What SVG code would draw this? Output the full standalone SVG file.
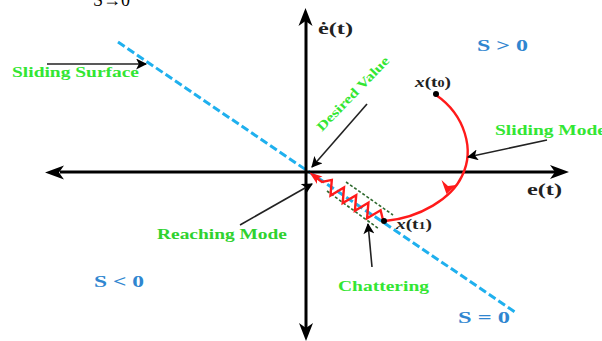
<svg xmlns="http://www.w3.org/2000/svg" width="602" height="341" viewBox="0 0 602 341">
<defs>
<style>
.lbl{font-family:"Liberation Serif","Times New Roman",serif;font-weight:bold;font-size:15px;fill:#33e633}
.reg{font-family:"Liberation Serif","Times New Roman",serif;font-weight:bold;font-size:17px;fill:#2f86d0}
.ax{font-family:"Liberation Serif","Times New Roman",serif;font-weight:bold;font-size:17px;fill:#222}
.pt{font-family:"Liberation Serif","Times New Roman",serif;font-weight:bold;font-size:15px;fill:#222}
.axis{stroke:#000;stroke-width:3;fill:none}
.lead{stroke:#222;stroke-width:1.6;fill:none}
.surf{stroke:#1fb0ee;stroke-width:3;stroke-dasharray:8,3.5;fill:none}
.band{stroke:#2f6a2f;stroke-width:1.6;stroke-dasharray:3,2;fill:none}
.traj{stroke:#ff1a1a;stroke-width:2.4;fill:none}
</style>
<marker id="ahl" viewBox="0 0 10 10" refX="9" refY="5" markerWidth="13" markerHeight="11" markerUnits="userSpaceOnUse" orient="auto">
<path d="M0,0 L10,5 L0,10 L2.5,5 z" fill="#000"/>
</marker>
</defs>
<rect width="602" height="341" fill="#fff"/>
<text x="93" y="6" style="font-family:'Liberation Serif','Times New Roman',serif;font-size:18px;fill:#000">S→0</text>
<g id="connectors">
<line class="surf" x1="118" y1="42" x2="515" y2="312"/>
<line class="axis" x1="60" y1="172" x2="555" y2="172"/>
<polygon points="45,172.5 64,165.5 59,172.5 64,179.5" fill="#000"/>
<polygon points="569,172 550,165 555,172 550,179" fill="#000"/>
<line class="axis" x1="306" y1="20" x2="306" y2="328"/>
<polygon points="305.5,8 298.5,26 305.5,21 312.5,26" fill="#000"/>
<polygon points="306,341 299,323 306,328 313,323" fill="#000"/>
<line class="band" x1="346" y1="182" x2="393" y2="215"/>
<line class="band" x1="327" y1="191" x2="379" y2="229"/>
<path class="traj" d="M436,95 C465,115 475,150 462,176 C452,198 420,218 385,221"/>
<polygon points="446.5,194 441.5,180 448,186 456,185" fill="#ff1a1a"/>
<polyline class="traj" stroke-width="2" points="383,220 380.6,210.3 367.1,218.3 368.4,202.7 354.9,210.7 356.2,195.1 342.7,203.1 344,187.5 330.5,195.5 331.8,179.9 322,182 316,177.5"/>
<polygon points="309.5,172.5 322.5,176.5 317,178.5 317,184" fill="#ff1a1a"/>
<line class="lead" x1="47" y1="64" x2="146" y2="64" marker-end="url(#ahl)"/>
<line class="lead" x1="367" y1="104" x2="312" y2="167" marker-end="url(#ahl)"/>
<line class="lead" x1="547" y1="140" x2="468" y2="157" marker-end="url(#ahl)"/>
<line class="lead" x1="240" y1="225" x2="312" y2="184" marker-end="url(#ahl)"/>
<line class="lead" x1="372" y1="267" x2="368" y2="224" marker-end="url(#ahl)"/>
</g>
<g id="sliding-surface"><text class="lbl" x="12" y="77" textLength="127" lengthAdjust="spacingAndGlyphs">Sliding Surface</text></g>
<g id="desired-value"><text class="lbl" transform="translate(322,132) rotate(-46)" style="font-size:13px" textLength="98" lengthAdjust="spacingAndGlyphs">Desired Value</text></g>
<g id="sliding-mode"><text class="lbl" x="495" y="135" textLength="111" lengthAdjust="spacingAndGlyphs">Sliding Mode</text></g>
<g id="reaching-mode"><text class="lbl" x="157" y="239" textLength="130" lengthAdjust="spacingAndGlyphs" style="fill:#2fd22f">Reaching Mode</text></g>
<g id="chattering"><text class="lbl" x="338" y="291" textLength="91" lengthAdjust="spacingAndGlyphs">Chattering</text></g>
<g id="s-pos"><text class="reg" x="477" y="51" textLength="51" lengthAdjust="spacingAndGlyphs">S &gt; 0</text></g>
<g id="s-neg"><text class="reg" x="94" y="287" textLength="50" lengthAdjust="spacingAndGlyphs">S &lt; 0</text></g>
<g id="s-zero"><text class="reg" x="458" y="323" textLength="52" lengthAdjust="spacingAndGlyphs">S = 0</text></g>
<g id="e-axis"><text class="ax" x="527" y="195" textLength="35" lengthAdjust="spacingAndGlyphs">e(t)</text></g>
<g id="edot-axis"><text class="ax" x="318" y="34" textLength="35" lengthAdjust="spacingAndGlyphs">ė(t)</text></g>
<g id="x-t0"><circle cx="436" cy="94" r="3" fill="#000"/><text class="pt" x="415" y="87" textLength="36" lengthAdjust="spacingAndGlyphs"><tspan font-style="italic">x</tspan>(t<tspan font-size="11">0</tspan>)</text></g>
<g id="x-t1"><circle cx="384" cy="221" r="3" fill="#000"/><text class="pt" x="396" y="229" textLength="36" lengthAdjust="spacingAndGlyphs"><tspan font-style="italic">x</tspan>(t<tspan font-size="11">1</tspan>)</text></g>
</svg>
